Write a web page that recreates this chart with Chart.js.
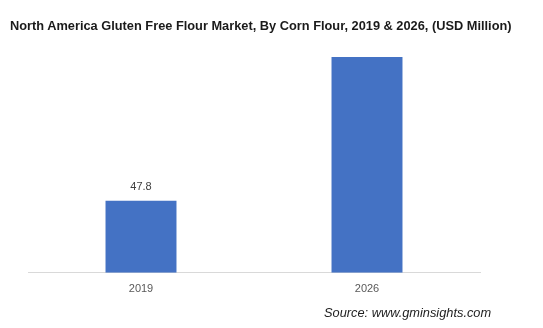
<!DOCTYPE html>
<html>
<head>
<meta charset="utf-8">
<script src="https://cdn.jsdelivr.net/npm/chart.js@4"></script>
<style>
  html, body { margin: 0; padding: 0; background: #fff; }
  #wrap { position: relative; width: 543px; height: 328px; }
  #title {
    position: absolute; left: 10px; top: 18px; width: 500px; text-align: center;
    font: bold 12.8px "Liberation Sans", Arial, sans-serif; color: #1a1a1a; white-space: nowrap;
  }
  #source {
    position: absolute; left: 324px; top: 305px;
    font: italic 12.8px "Liberation Sans", Arial, sans-serif; color: #222; white-space: nowrap;
  }
  canvas { position: absolute; left: 0; top: 0; }
</style>
</head>
<body>
<div id="wrap">
  <canvas id="chart" width="543" height="328"></canvas>
  <div id="title">North America Gluten Free Flour Market, By Corn Flour, 2019 &amp; 2026, (USD Million)</div>
  <div id="source">Source: www.gminsights.com</div>
</div>
<script>
// Corn flour market size, USD million
const years = ['2019', '2026'];
const values = [47.8, 143.4];
const showValue = [true, false];

// value labels above the bars that carry one
const valueLabels = {
  id: 'valueLabels',
  afterDatasetsDraw(chart) {
    const { ctx } = chart;
    const meta = chart.getDatasetMeta(0);
    ctx.save();
    ctx.font = "11px 'Liberation Sans', Arial, sans-serif";
    ctx.fillStyle = '#404040';
    ctx.textAlign = 'center';
    ctx.textBaseline = 'bottom';
    meta.data.forEach((bar, i) => {
      if (!showValue[i]) return;
      ctx.fillText(values[i].toFixed(1), bar.x, bar.y - 8);
    });
    ctx.restore();
  }
};

new Chart(document.getElementById('chart'), {
  type: 'bar',
  data: {
    labels: years,
    datasets: [{ data: values, backgroundColor: '#4472C4', categoryPercentage: 1, barPercentage: 0.314 }]
  },
  options: {
    responsive: false, animation: false,
    layout: { padding: { left: 28, right: 63, top: 47, bottom: 22 } },
    scales: {
      x: {
        grid: { display: false, drawTicks: false },
        border: { display: true, color: '#d9d9d9' },
        ticks: { color: '#595959', font: { size: 11, family: "'Liberation Sans', Arial, sans-serif" }, padding: 10 }
      },
      y: { display: false, min: 0, max: 150 }
    },
    plugins: { legend: { display: false }, tooltip: { enabled: false } }
  },
  plugins: [valueLabels]
});
</script>
</body>
</html>
